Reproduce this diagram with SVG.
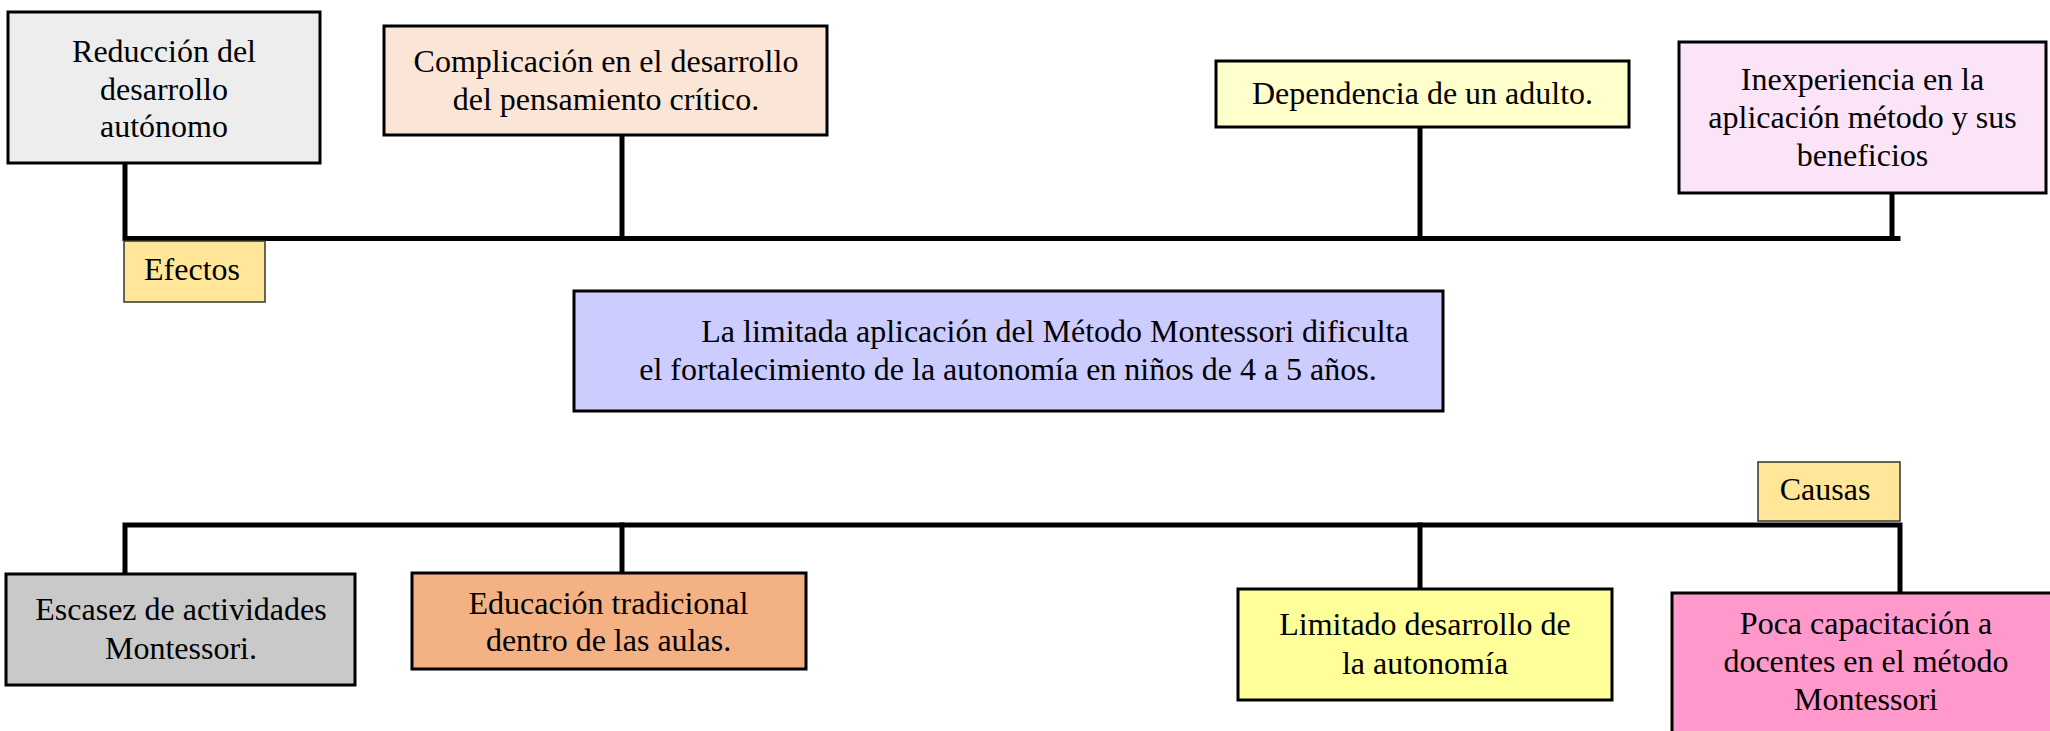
<svg xmlns="http://www.w3.org/2000/svg" width="2050" height="731" viewBox="0 0 2050 731">
<style>
.box{stroke:#000;stroke-width:3}
.tag{stroke:#333;stroke-width:1.5;fill:#FFE699}
.t{font-family:"Liberation Serif","Times New Roman",serif;font-size:32px;fill:#000;text-anchor:middle}
.c{stroke:#000;stroke-width:5;fill:none;stroke-linecap:square}
</style>
<rect width="2050" height="731" fill="#fff"/>
<g id="connectors">
<path class="c" d="M125,164 V238.5 H1898"/>
<path class="c" d="M622,136 V234"/>
<path class="c" d="M1420,128 V238"/>
<path class="c" d="M1892,194 V238"/>
<path class="c" d="M125,573 V525 H1900 V592"/>
<path class="c" d="M622,525 V572"/>
<path class="c" d="M1420,525 V588"/>
</g>
<g id="n-reduccion">
<rect class="box" x="8" y="12" width="312" height="151" fill="#EDEDED"/>
<text class="t" x="164" y="62">Reducción del</text>
<text class="t" x="164" y="99.5">desarrollo</text>
<text class="t" x="164" y="137">autónomo</text>
</g>
<g id="n-complicacion">
<rect class="box" x="384" y="26" width="443" height="109" fill="#FBE5D6"/>
<text class="t" x="606" y="72">Complicación en el desarrollo</text>
<text class="t" x="606" y="110">del pensamiento crítico.</text>
</g>
<g id="n-dependencia">
<rect class="box" x="1216" y="61" width="413" height="66" fill="#FFFFCC"/>
<text class="t" x="1422.5" y="103.5">Dependencia de un adulto.</text>
</g>
<g id="n-inexperiencia">
<rect class="box" x="1679" y="42" width="367" height="151" fill="#FCE4F8"/>
<text class="t" x="1862.5" y="89.5">Inexperiencia en la</text>
<text class="t" x="1862.5" y="128">aplicación método y sus</text>
<text class="t" x="1862.5" y="166">beneficios</text>
</g>
<g id="n-efectos">
<rect class="tag" x="124" y="241" width="141" height="61"/>
<text class="t" x="192" y="280">Efectos</text>
</g>
<g id="n-problema">
<rect class="box" x="574" y="291" width="869" height="120" fill="#CCCCFF"/>
<text class="t" x="1055" y="342">La limitada aplicación del Método Montessori dificulta</text>
<text class="t" x="1008" y="379.5">el fortalecimiento de la autonomía en niños de 4 a 5 años.</text>
</g>
<g id="n-causas">
<rect class="tag" x="1758" y="462" width="142" height="59"/>
<text class="t" x="1825" y="500">Causas</text>
</g>
<g id="n-escasez">
<rect class="box" x="6" y="574" width="349" height="111" fill="#C9C9C9"/>
<text class="t" x="181" y="620">Escasez de actividades</text>
<text class="t" x="181" y="658.5">Montessori.</text>
</g>
<g id="n-educacion">
<rect class="box" x="412" y="573" width="394" height="96" fill="#F4B183"/>
<text class="t" x="608.5" y="613.5">Educación tradicional</text>
<text class="t" x="608.5" y="651">dentro de las aulas.</text>
</g>
<g id="n-limitado">
<rect class="box" x="1238" y="589" width="374" height="111" fill="#FFFF99"/>
<text class="t" x="1425" y="635">Limitado desarrollo de</text>
<text class="t" x="1425" y="673.5">la autonomía</text>
</g>
<g id="n-poca">
<rect class="box" x="1672" y="593" width="388" height="150" fill="#FF99CC"/>
<text class="t" x="1866" y="633.5">Poca capacitación a</text>
<text class="t" x="1866" y="672">docentes en el método</text>
<text class="t" x="1866" y="710">Montessori</text>
</g>
</svg>
